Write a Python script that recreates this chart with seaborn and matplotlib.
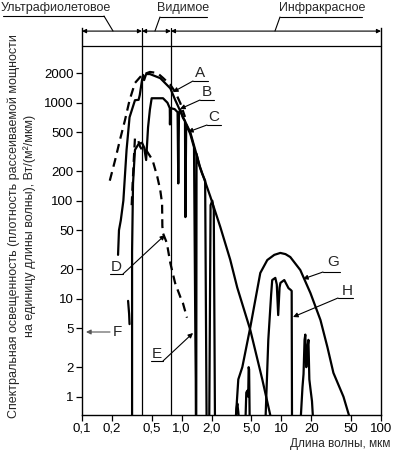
import numpy as np
import pandas as pd
import matplotlib
matplotlib.use("Agg")
import matplotlib.pyplot as plt
from matplotlib.lines import Line2D
from matplotlib.ticker import NullLocator
import seaborn as sns

# ~~~~~~~~~~~~~~~~~~  DATA (wavelength, um ; irradiance, W/(m2*um))  ~~~~~~~~~~~~~~~~~~
# A - dashed envelope
a_wl = [0.19, 0.215, 0.24, 0.27, 0.30, 0.34, 0.40, 0.48, 0.57, 0.65, 0.77, 0.86, 0.97, 1.08]
a_val = [160, 260, 415, 665, 1060, 1590, 1920, 2060, 2010, 1790, 1520, 1290, 990, 715]

# C - solid smooth curve with long tail
c_wl = [0.23, 0.235, 0.245, 0.26, 0.28, 0.30, 0.34, 0.37, 0.38, 0.40, 0.41, 0.42, 0.44,
        0.48, 0.61, 0.77, 0.86, 1.03, 1.22, 1.53, 1.94, 2.44, 3.07, 3.61, 4.88, 6.44, 8.2]
c_val = [28, 50, 63, 100, 330, 710, 1060, 1070, 1200, 1700, 1920, 1700, 1960,
         1960, 1780, 1400, 1070, 715, 500, 220, 110, 54, 25, 13, 4.8, 1.5, 0.5]

# B - solid curve with plateau and absorption bands
b_wl = [0.318, 0.318, 0.325, 0.34, 0.37, 0.40, 0.42, 0.44, 0.46, 0.48, 0.50, 0.65, 0.72,
        0.76, 0.763, 0.77, 0.85, 0.91, 0.925, 0.94, 0.97, 1.03, 1.08, 1.09, 1.11, 1.22,
        1.33, 1.37, 1.385, 1.39, 1.40, 1.41, 1.5, 1.6, 1.72, 1.78, 1.89, 1.95, 2.03, 2.1, 2.16]
b_val = [0.5, 30, 150, 330, 380, 390, 350, 260, 560, 850, 1110, 1110, 1000,
         880, 600, 880, 860, 800, 150, 780, 850, 700, 650, 68, 600, 480,
         350, 5, 1.5, 0.5, 0.5, 300, 230, 190, 160, 0.5, 0.5, 90, 100, 80, 0.5]
b2_wl = [0.29, 0.297, 0.30]
b2_val = [9.5, 7, 5.5]

# D - dashed small curve
d_wl = [0.315, 0.33, 0.34, 0.365, 0.383, 0.41, 0.44, 0.51, 0.57, 0.61, 0.636, 0.64,
        0.65, 0.71, 0.77, 0.86, 0.97, 1.03, 1.13]
d_val = [90, 250, 437, 416, 355, 320, 329, 260, 175, 128, 94, 55,
         46.5, 37, 23, 14.4, 10.4, 9.0, 6.4]

# G - smooth infrared curve
g_wl = [3.45, 3.70, 4.06, 4.88, 6.15, 7.23, 8.5, 9.77, 11.0, 12.3, 15.5, 19.6, 24.7,
        29.0, 33.3, 42.0, 50.0]
g_val = [0.5, 1.5, 2.0, 5.1, 18.3, 24.8, 28, 29.3, 28.5, 26.6, 19.6, 11.4, 6.05,
         3.2, 1.75, 1.0, 0.55]

# H - infrared bands
h1_wl = [3.45, 3.55, 3.62, 3.7, 3.8]
h1_val = [0.5, 0.75, 0.85, 0.7, 0.5]
h2_wl = [4.35, 4.45, 4.55, 4.65, 4.7, 4.75, 4.82]
h2_val = [0.5, 1.1, 1.15, 1.0, 2.0, 1.9, 0.5]
h3_wl = [6.9, 7.4, 7.9, 8.1, 8.7, 9.0, 9.3, 9.6, 9.8, 10.7, 11.8, 12.4, 12.7, 12.8]
h3_val = [0.5, 3.8, 11, 15.5, 16.3, 14, 6.8, 13, 14.5, 15.5, 12.8, 12.3, 12.0, 0.5]
h4_wl = [15.5, 16.3, 16.7, 17.1, 17.4, 17.8, 18.2, 18.7, 19.1, 19.6, 20.3, 21.0]
h4_val = [0.5, 1.25, 1.7, 3.8, 4.3, 2.0, 3.0, 3.8, 1.5, 1.2, 0.9, 0.5]

x_ticks = [0.1, 0.2, 0.5, 1, 2, 5, 10, 20, 50, 100]
x_labels = ["0,1", "0,2", "0,5", "1,0", "2,0", "5,0", "10", "20", "50", "100"]
y_ticks = [1, 2, 5, 10, 20, 50, 100, 200, 500, 1000, 2000]

# ~~~~~~~~~~~~~~~~~~  STYLE  ~~~~~~~~~~~~~~~~~~
sns.set_style("ticks")
plt.rcParams['font.family'] = ['Liberation Sans', 'DejaVu Sans']
plt.rcParams['font.size'] = 9

W, H = 394, 450
fig = plt.figure(figsize=(W / 100, H / 100), dpi=100)
ax = fig.add_axes([82 / W, 1 - 415 / H, (381 - 82) / W, (415 - 28) / H])
ax.set_xscale('log')
ax.set_yscale('log')


def draw(wl, val, dashed=False):
    d = pd.DataFrame({'wl': wl, 'val': val})
    sns.lineplot(data=d, x='wl', y='val', ax=ax, color='black', lw=1.6,
                 estimator=None, sort=False,
                 linestyle=(0, (4, 2.5)) if dashed else '-')


draw(a_wl, a_val, dashed=True)
draw(c_wl, c_val)
draw(b_wl, b_val)
draw(b2_wl, b2_val)
draw(d_wl, d_val, dashed=True)
draw(g_wl, g_val)
for wl, val in [(h1_wl, h1_val), (h2_wl, h2_val), (h3_wl, h3_val), (h4_wl, h4_val)]:
    draw(wl, val)

ax.set_xlim(0.1, 100)
ax.set_ylim(0.65, 5785)
ax.set_xticks(x_ticks)
ax.set_xticklabels(x_labels)
ax.set_yticks(y_ticks)
ax.set_yticklabels([str(v) for v in y_ticks])
ax.xaxis.set_minor_locator(NullLocator())
ax.yaxis.set_minor_locator(NullLocator())
ax.tick_params(length=4, width=0.9, labelsize=9.5, pad=2, colors='black')
ax.tick_params(axis='x', pad=1.5)
ax.set_xlabel("")
ax.set_ylabel("")
for s in ['left', 'right', 'bottom']:
    ax.spines[s].set_color('black')
    ax.spines[s].set_linewidth(1.0)
ax.spines['top'].set_visible(False)

# region borders
ax.axvline(0.4, color='black', lw=0.9)
ax.axvline(0.78, color='black', lw=0.9)
ax.plot([0, 1], [0.9535, 0.9535], transform=ax.transAxes, color='black', lw=0.9, clip_on=False)

xt = ax.get_xaxis_transform()
arr = dict(arrowstyle='<|-|>', color='black', lw=0.8, mutation_scale=6, shrinkA=0, shrinkB=0)
for lo, hi in [(0.1, 0.4), (0.4, 0.78), (0.78, 100)]:
    ax.annotate('', xy=(lo, 0.992), xytext=(hi, 0.992), xycoords=xt, textcoords=xt, arrowprops=arr)


# ~~~~~~~~~~~~~~~~~~  LABELS AND LEADERS (figure pixels)  ~~~~~~~~~~~~~~~~~~
def line(x1, y1, x2, y2, color='black', lw=0.8):
    fig.add_artist(Line2D([x1 / W, x2 / W], [1 - y1 / H, 1 - y2 / H],
                          transform=fig.transFigure, color=color, lw=lw))


def label(txt, x, y, size=11):
    fig.text(x / W, 1 - y / H, txt, ha='center', va='center', fontsize=size)


def leader(x1, y1, x2, y2, color='black'):
    ax.annotate('', xy=(x2, H - y2), xytext=(x1, H - y1),
                xycoords='figure pixels', textcoords='figure pixels',
                arrowprops=dict(arrowstyle='-|>', color=color, lw=0.8,
                                mutation_scale=7, shrinkA=0, shrinkB=0))


# header
label("Ультрафиолетовое", 56, 8, 9)
line(3, 16, 104, 16)
line(104, 16, 113, 31)
label("Видимое", 183, 8, 9)
line(160, 17, 207, 17)
line(160, 17, 155, 31)
label("Инфракрасное", 322, 8, 9)
line(280, 17, 362, 17)
line(280, 17, 275, 31)

# curve letters
label("A", 200, 73)
line(193, 81, 208, 81)
leader(193, 81, 173, 92)
label("B", 207, 92)
line(200, 100, 214, 100)
leader(200, 100, 180, 109)
label("C", 214, 117)
line(207, 125, 221, 125)
leader(207, 125, 188, 132)
label("D", 116, 267)
line(110, 274, 123, 274)
leader(123, 274, 165, 235)
label("E", 157, 354)
line(151, 361, 163, 361)
leader(163, 361, 193, 333)
label("F", 117, 332)
leader(110, 332, 86, 332, color='#555555')
label("G", 333, 262)
line(323, 272, 340, 272)
leader(323, 272, 303, 279)
label("H", 347, 291)
line(338, 298, 353, 298)
leader(338, 298, 293, 317)

# axis titles
fig.text(390 / W, 1 - 449.5 / H, "Длина волны, мкм", ha='right', va='bottom', fontsize=8.5)
fig.text(22 / W, 1 - 226 / H,
         "Спектральная освещенность (плотность рассеиваемой мощности\n"
         "на единицу длины волны), Вт/(м²/мкм)",
         rotation=90, ha='center', va='center', multialignment='center',
         fontsize=9, linespacing=1.3)

plt.savefig("out.png", dpi=100)
